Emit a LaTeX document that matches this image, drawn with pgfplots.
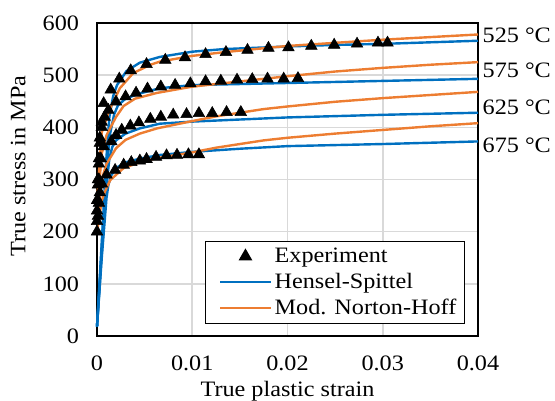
\documentclass[border=0pt]{standalone}
\usepackage{fontspec}
\setmainfont{Liberation Serif}[FakeStretch=1.1]
\usepackage{pgfplots}
\usepackage{pgfplotstable}
\pgfplotsset{compat=1.18}
\definecolor{hsblue}{HTML}{0070C0}
\definecolor{nhorange}{HTML}{ED7D31}
\definecolor{gridgray}{HTML}{D9D9D9}
\pgfplotsset{
  linelegend/.style={legend image code/.code={\path (-6pt,0pt); \draw[##1] (0pt,0pt) -- (38pt,0pt);}},
  marklegend/.style={legend image code/.code={\path (-6pt,0pt) (38pt,0pt); \draw[##1] plot coordinates {(19pt,0pt)};}},
}

% Experiment
\pgfplotstableread{
x y
0 260
0.0001 300
0.0002 340
0.0003 380
0.0005 410
0.0007 446
0.00144 472
0.00234 493
0.00354 509
0.0052 521
0.00717 529
0.00924 534
0.0114 540
0.01354 544
0.0158 548
0.018 552
0.0201 553
0.0225 556
0.0249 558
0.0273 560
0.0295 562
0.0305 562
}\expA
\pgfplotstableread{
x y
0 240
0.0001 290
0.0002 330
0.0003 370
0.0005 400
0.0008 420
0.0012 433
0.002 449
0.003 459
0.0041 466
0.0053 474
0.0067 478
0.0082 481
0.0098 484
0.0114 488
0.013 489
0.0147 491
0.0163 492
0.0179 493
0.0196 493
0.0211 494
}\expB
\pgfplotstableread{
x y
0 220
0.0001 260
0.0002 300
0.0004 340
0.0007 363
0.0015 373
0.002 385
0.0026 395
0.0035 403
0.0044 409
0.0056 416
0.0067 420
0.008 424
0.0094 425
0.0107 427
0.0121 427
0.0136 429
0.0151 429
}\expC
\pgfplotstableread{
x y
0 200
0.0001 230
0.0002 255
0.0003 275
0.0005 292
0.001 309
0.0019 318
0.0028 328
0.0036 333
0.0045 336
0.0052 339
0.0062 343
0.0073 346
0.0084 347
0.0096 348
0.0107 348
}\expD

% Hensel-Spittel
\pgfplotstableread{
x y
0 18
0.0005 180
0.001 345
0.0013 420
0.0017 460
0.0021 481
0.0031 508
0.0045 524
0.0066 535
0.01 545
0.0133 550
0.02 555
0.025 558
0.03 560
0.035 563
0.04 566
}\hsA
\pgfplotstableread{
x y
0 18
0.0005 170
0.001 320
0.0014 390
0.0018 425
0.0022 442
0.003 455
0.0045 465
0.0066 475
0.01 481
0.015 483
0.02 485
0.03 489
0.04 493
}\hsB
\pgfplotstableread{
x y
0 18
0.0005 160
0.001 290
0.0013 340
0.0016 362
0.002 375
0.003 388
0.0045 398
0.0066 407
0.01 411
0.015 415
0.02 419
0.03 424
0.04 428
}\hsC
\pgfplotstableread{
x y
0 18
0.0005 150
0.001 265
0.0012 290
0.0015 308
0.002 322
0.003 333
0.0045 340
0.0066 347
0.01 353
0.015 359
0.02 364
0.03 368
0.04 373
}\hsD

% Mod. Norton-Hoff
\pgfplotstableread{
x y
0 260
0.0005 390
0.0013 433
0.0024 475
0.0038 504
0.0056 520
0.0066 526
0.01 537
0.0133 544
0.0166 550
0.02 556
0.025 562
0.03 568
0.035 573
0.04 578
}\nhA
\pgfplotstableread{
x y
0 240
0.0005 350
0.001 385
0.002 420
0.0028 441
0.004 455
0.0063 466
0.01 478
0.0125 483
0.015 488
0.0175 493
0.02 498
0.025 507
0.03 514
0.035 520
0.04 525
}\nhB
\pgfplotstableread{
x y
0 220
0.0005 300
0.001 330
0.002 360
0.003 376
0.0045 388
0.0063 398
0.01 412
0.0125 421
0.015 428
0.0175 435
0.02 440
0.025 449
0.03 456
0.035 462
0.04 468
}\nhC
\pgfplotstableread{
x y
0 200
0.0005 260
0.0009 280
0.0014 299
0.0028 322
0.0045 333
0.0063 341
0.01 352
0.0125 361
0.015 368
0.0175 375
0.02 380
0.025 388
0.03 395
0.035 402
0.04 408
}\nhD

\begin{document}
\begin{tikzpicture}[font=\fontsize{16.5}{19.8}\selectfont]
\begin{axis}[
  scale only axis, width=285.75pt, height=234.75pt,
  at={(0,0)}, anchor=south west,
  xmin=0, xmax=0.04, ymin=0, ymax=600,
  xtick={0,0.01,0.02,0.03,0.04}, xticklabels={0,0.01,0.02,0.03,0.04},
  ytick={0,100,200,300,400,500,600}, yticklabels={0,100,200,300,400,500,600},
  scaled x ticks=false,
  major tick length=0pt,
  grid=major, major grid style={gridgray, line width=1.2pt},
  axis line style={black, line width=1.5pt},
  yticklabel style={xshift=-10pt},
  xticklabel style={yshift=-11pt},
  xlabel={True plastic strain}, ylabel={True stress in MPa},
  xlabel style={at={(axis description cs:0.5,-0.176)}, anchor=center},
  ylabel style={at={(axis description cs:-0.207,0.543)}, anchor=center},
  clip=false,
  legend style={at={(0.966,0.038)}, anchor=south east, draw=black, line width=1pt,
    font=\fontsize{16.5}{19.8}\selectfont, row sep=2.5pt, inner xsep=4pt, inner ysep=3pt},
  legend cell align=left,
]
\addlegendimage{black, mark=triangle*, mark size=5pt, mark options={solid, fill=black, draw=black}, marklegend}
\addlegendentry{Experiment}
\addlegendimage{hsblue, line width=1.8pt, linelegend}
\addlegendentry{Hensel-Spittel}
\addlegendimage{nhorange, line width=1.8pt, linelegend}
\addlegendentry{Mod. Norton-Hoff}

\addplot[hsblue, line width=1.8pt, line join=round, forget plot] table {\hsA};
\addplot[hsblue, line width=1.8pt, line join=round, forget plot] table {\hsB};
\addplot[hsblue, line width=1.8pt, line join=round, forget plot] table {\hsC};
\addplot[hsblue, line width=1.8pt, line join=round, forget plot] table {\hsD};
\addplot[nhorange, line width=1.8pt, line join=round, forget plot] table {\nhA};
\addplot[nhorange, line width=1.8pt, line join=round, forget plot] table {\nhB};
\addplot[nhorange, line width=1.8pt, line join=round, forget plot] table {\nhC};
\addplot[nhorange, line width=1.8pt, line join=round, forget plot] table {\nhD};

\addplot[only marks, mark=triangle*, mark size=5pt, black, forget plot] table {\expA};
\addplot[only marks, mark=triangle*, mark size=5pt, black, forget plot] table {\expB};
\addplot[only marks, mark=triangle*, mark size=5pt, black, forget plot] table {\expC};
\addplot[only marks, mark=triangle*, mark size=5pt, black, forget plot] table {\expD};

\node[anchor=west] at (axis cs:0.04,577) {525 °C};
\node[anchor=west] at (axis cs:0.04,510) {575 °C};
\node[anchor=west] at (axis cs:0.04,439) {625 °C};
\node[anchor=west] at (axis cs:0.04,366) {675 °C};
\end{axis}
\pgfresetboundingbox
\path[use as bounding box] (-72.75pt,-48pt) rectangle (343.5pt,252pt);
\end{tikzpicture}
\end{document}
